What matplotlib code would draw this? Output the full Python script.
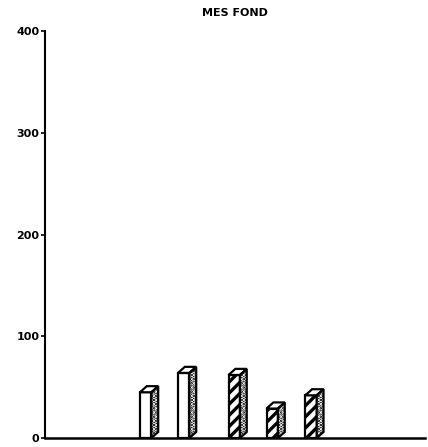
import numpy as np
import matplotlib.pyplot as plt
from matplotlib.patches import Polygon

plt.rcParams['hatch.linewidth'] = 2.4

# valori
positions = [2.65, 3.65, 4.98, 5.98, 7.0]
values = [45, 64, 62, 29, 42]
hatches = ['', '', '///', '///', '///']
yticks = [0, 100, 200, 300, 400]

width = 0.3
dx = 0.18   # profondita' 3D
dy = 6.0

fig = plt.figure(figsize=(4.28, 4.47), dpi=100)
ax = fig.add_axes([0.105, 0.02, 0.888, 0.9105])

ax.bar(positions, values, width=width, color='white', edgecolor='black',
       linewidth=1.6, hatch=hatches, zorder=3)

for x, v in zip(positions, values):
    l = x - width / 2
    r = x + width / 2
    # faccia superiore
    top = Polygon([(l, v), (r, v), (r + dx, v + dy), (l + dx, v + dy)],
                  closed=True, facecolor='white', edgecolor='black', lw=1.6, zorder=4)
    ax.add_patch(top)
    # faccia laterale scura puntinata
    side_pts = [(r, 0), (r + dx, dy), (r + dx, v + dy), (r, v)]
    ax.add_patch(Polygon(side_pts, closed=True, facecolor='black', edgecolor='white',
                         hatch='....', lw=0, zorder=3))
    ax.add_patch(Polygon(side_pts, closed=True, fill=False, edgecolor='black',
                         lw=1.6, zorder=4))

ax.set_xlim(0, 10)
ax.set_ylim(0, 400)
ax.set_yticks(yticks)
ax.set_yticklabels([str(t) for t in yticks], fontsize=8, fontweight='heavy')
ax.set_xticks([])
ax.tick_params(axis='y', length=3, width=1.2, pad=1)
ax.spines['top'].set_visible(False)
ax.spines['right'].set_visible(False)
ax.spines['left'].set_linewidth(1.5)
ax.spines['bottom'].set_linewidth(1.8)
ax.set_title('MES FOND', fontsize=8, fontweight='heavy', pad=11)

fig.savefig('out.png', dpi=100)
